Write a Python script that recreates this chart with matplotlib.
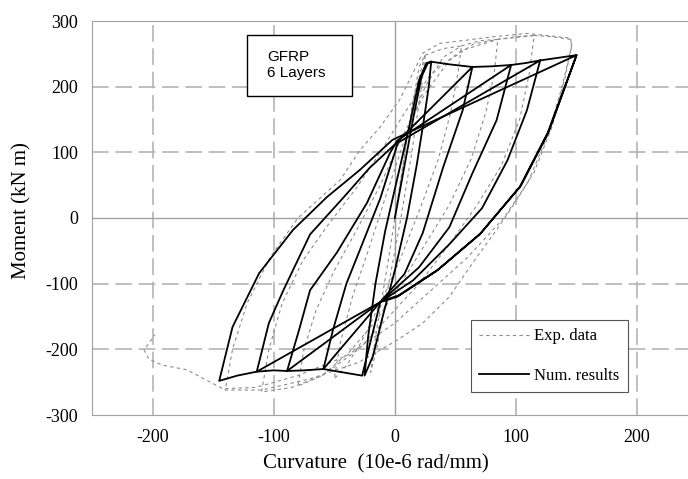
import matplotlib
matplotlib.use("Agg")
import matplotlib.pyplot as plt
from matplotlib.patches import Rectangle

# --- numerical results (solid black), one polyline per amplitude level ---
num1_x = [0, 8, 15, 22, 27, 30, 28, 24, 18, 10, 0, -10, -18, -25, -22, -16, -8, 2, 12, 20, 26, 30]
num1_y = [0, 80, 150, 215, 235, 238, 200, 150, 80, 0, -80, -150, -210, -240, -180, -100, -20, 60, 140, 210, 236, 238]

num2_x = [30, 45, 64, 56, 40, 23, 8, -12, -27, -40, -59, -51, -40, -27, -12, 0, 3, 64]
num2_y = [238, 234, 230, 164, 78, -23, -85, -128, -240, -236, -230, -170, -100, -40, 30, 100, 118, 230]

num3_x = [64, 80, 96, 84, 64, 45, 20, -12, -59, -75, -89, -79, -70, -48, -23, -4, 2, 96]
num3_y = [230, 231, 233, 149, 68, -14, -75, -128, -230, -232, -233, -170, -110, -53, 23, 99, 118, 233]

num4_x = [96, 108, 120, 109, 93, 72, 45, 15, -12, -89, -100, -114, -104, -92, -70, -43, -21, 0, 120]
num4_y = [233, 236, 240, 164, 88, 15, -40, -95, -128, -233, -232, -234, -160, -110, -25, 30, 76, 112, 240]

num5_x = [120, 135, 150, 126, 103, 70, 35, 2, -12, -114, -130, -145, -134, -112, -84, -56, -29, -2, 150,
          127, 104, 71, 36, 3, -10]
num5_y = [240, 244, 248, 129, 47, -25, -80, -120, -128, -234, -240, -248, -166, -84, -18, 32, 73, 119, 248,
          131, 49, -23, -78, -118, -126]

# --- experimental data (grey dashed) ---
exp1_x = [0, 10, 20, 25, 22, 14, 5, -5, -15, -20, -15, -5, 5, 15, 25]
exp1_y = [0, 120, 230, 248, 200, 100, 0, -100, -200, -235, -170, -60, 60, 180, 248]

exp2_x = [25, 40, 55, 52, 46, 36, 22, 5, -12, -28, -40, -50, -45, -35, -22, -8, 8, 25, 40, 55]
exp2_y = [248, 258, 262, 220, 160, 90, 20, -60, -130, -190, -225, -245, -190, -120, -50, 30, 120, 200, 245, 262]

exp3_x = [55, 70, 85, 82, 75, 63, 45, 25, 5, -15, -38, -60, -80, -75, -65, -50, -32, -12, 5, 25, 45, 65, 85]
exp3_y = [262, 270, 272, 220, 160, 90, 20, -40, -100, -155, -205, -240, -256, -200, -140, -80, -20, 50, 120, 190, 240, 265, 272]

exp4_x = [85, 100, 115, 111, 103, 88, 68, 45, 20, -5, -30, -60, -85, -110, -104, -93, -76, -55, -32, -12, 8, 30, 55, 85, 115]
exp4_y = [272, 276, 278, 220, 150, 80, 20, -40, -100, -150, -200, -240, -258, -265, -200, -130, -65, -10, 45, 100, 160, 220, 255, 272, 278]

exp5_x = [115, 130, 145, 146, 140, 130, 115, 98, 84, 64, 45, 23, 2, -30, -70, -110, -140,
          -134, -122, -103, -80, -45, -29, -12, 4, 23, 37, 60, 81, 109, 145, 146,
          138, 126, 110, 90, 60, 30, 0, -40, -80, -115, -142,
          -172, -192, -203, -207, -198]
exp5_y = [278, 276, 272, 262, 210, 140, 70, 20, -18, -69, -120, -160, -186, -220, -245, -262, -262,
          -200, -130, -60, 0, 58, 103, 139, 180, 251, 266, 271, 276, 281, 274, 262,
          200, 125, 55, 0, -60, -110, -160, -210, -240, -258, -260,
          -231, -224, -215, -201, -178]

num_x = [num1_x, num2_x, num3_x, num4_x, num5_x]
num_y = [num1_y, num2_y, num3_y, num4_y, num5_y]
exp_x = [exp1_x, exp2_x, exp3_x, exp4_x, exp5_x]
exp_y = [exp1_y, exp2_y, exp3_y, exp4_y, exp5_y]

plt.rcParams['font.family'] = ['Liberation Serif', 'DejaVu Serif']
plt.rcParams['axes.unicode_minus'] = False

fig = plt.figure(figsize=(6.88, 4.79), dpi=100)
ax = fig.add_axes([92 / 688, 1 - 415 / 479, 1 - 92 / 688, (415 - 21) / 479])

# grid
grid_col = '#b4b4b4'
for gx in [-200, -100, 100, 200]:
    ax.axvline(gx, color=grid_col, lw=1.2, dashes=(10, 4), zorder=0)
for gy in [-200, -100, 100, 200]:
    ax.axhline(gy, color=grid_col, lw=1.2, dashes=(10, 4), zorder=0)
ax.axvline(0, color='#a0a0a0', lw=1.0, zorder=0)
ax.axhline(0, color='#a0a0a0', lw=1.0, zorder=0)

for xs, ys in zip(exp_x, exp_y):
    ax.plot(xs, ys, color='#8c8c8c', lw=0.8, dashes=(3, 3), zorder=2)
for xs, ys in zip(num_x, num_y):
    ax.plot(xs, ys, color='black', lw=1.3, zorder=3)

ax.set_xlim(-250, 242)
ax.set_ylim(-300, 300)
ax.set_xticks([-200, -100, 0, 100, 200])
ax.set_yticks([-300, -200, -100, 0, 100, 200, 300])
ax.tick_params(length=0, labelsize=13, pad=10)
for s in ['left', 'top', 'bottom']:
    ax.spines[s].set_color('#a0a0a0')
ax.spines['right'].set_visible(False)

ax.set_xlabel('Curvature  (10e-6 rad/mm)', fontsize=15)
ax.set_ylabel('Moment (kN m)', fontsize=15)
ax.xaxis.set_label_coords(0.4765, -0.1)
ax.yaxis.set_label_coords(-0.1007, 0.52)

# label box
ax.add_patch(Rectangle((0.260, 0.8096), 0.176, 0.155, transform=ax.transAxes,
                       fill=True, facecolor='white', edgecolor='black', lw=1.0, zorder=4))
ax.text(0.2936, 0.888, 'GFRP\n6 Layers', transform=ax.transAxes, fontsize=11,
        family='Liberation Sans', va='center', ha='left', zorder=5)

# legend
h1, = ax.plot([], [], color='#8c8c8c', lw=0.8, dashes=(3, 3))
h2, = ax.plot([], [], color='black', lw=1.3)
leg = ax.legend([h1, h2], ['Exp. data', 'Num. results'], loc='lower left',
                bbox_to_anchor=(0.636, 0.058), borderaxespad=0, fontsize=12,
                handlelength=3.0, handletextpad=0.3, labelspacing=1.4,
                fancybox=False, framealpha=1, borderpad=0.5)
leg.get_frame().set_edgecolor('#555555')
leg.get_frame().set_linewidth(0.8)

fig.savefig('out.png', dpi=100)
